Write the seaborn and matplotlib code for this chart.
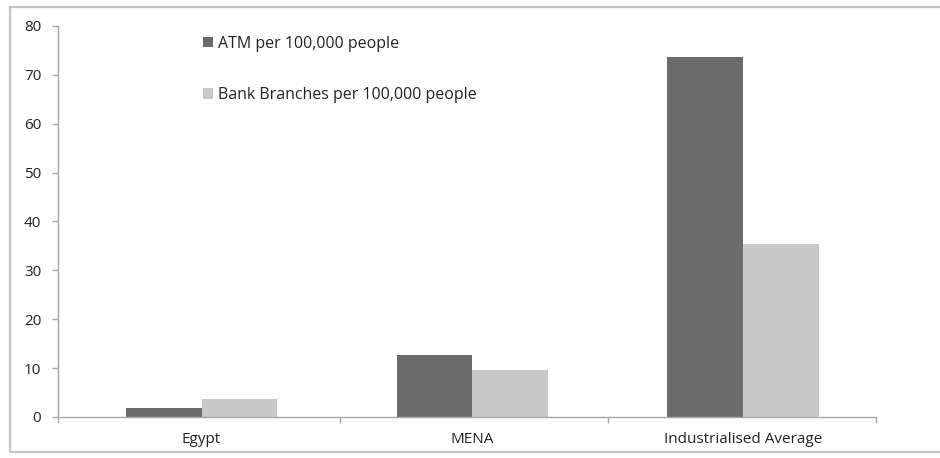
import pandas as pd
import matplotlib.pyplot as plt
import seaborn as sns
from matplotlib.patches import Rectangle

# Values
regions = ['Egypt', 'MENA', 'Industrialised Average']
atm_per_100k = [1.8, 12.6, 73.6]
branches_per_100k = [3.7, 9.6, 35.4]
series_names = ['ATM per 100,000 people', 'Bank Branches per 100,000 people']
y_ticks = [0, 10, 20, 30, 40, 50, 60, 70, 80]

# Long-form table for seaborn
data = pd.DataFrame({
    'Region': regions * 2,
    'Value': atm_per_100k + branches_per_100k,
    'Series': [series_names[0]] * 3 + [series_names[1]] * 3,
})

sns.set_theme(style="white")
plt.rcParams['font.family'] = ['Open Sans', 'DejaVu Sans']

fig = plt.figure(figsize=(9.4, 4.58), dpi=100)
ax = fig.add_axes([58 / 940, 1 - 417 / 458, 818 / 940, 391 / 458])

sns.barplot(
    data=data, x='Region', y='Value', hue='Series',
    palette=['#6b6b6b', '#c8c8c8'], saturation=1, width=0.56,
    order=regions, hue_order=series_names, ax=ax, linewidth=0,
)

# Axes styling
x_lo, x_hi = -0.53, 2.49
ax.set_xlim(x_lo, x_hi)
ax.set_ylim(0, 80)
ax.set_yticks(y_ticks)
ax.set_xlabel('')
ax.set_ylabel('')
for side in ['top', 'right']:
    ax.spines[side].set_visible(False)
for side in ['left', 'bottom']:
    ax.spines[side].set_color('#a6a6a6')
    ax.spines[side].set_linewidth(1.0)

ax.tick_params(axis='y', which='major', left=True, length=4.5, width=1,
               color='#a6a6a6', pad=7.5, labelsize=11, labelcolor='#222222')
ax.tick_params(axis='x', which='major', bottom=False, length=0, pad=11,
               labelsize=11, labelcolor='#222222')
ax.set_xticks([x_lo, 0.51, 1.5, x_hi], minor=True)
ax.tick_params(axis='x', which='minor', bottom=True, length=4, width=1,
               color='#a6a6a6')

# Legend without frame, top-left inside the plot
handles, labels = ax.get_legend_handles_labels()
ax.legend(
    handles, labels, loc='upper left', bbox_to_anchor=(0.168, 0.995),
    frameon=False, fontsize=11.5, handlelength=0.6, handleheight=0.6,
    handletextpad=0.3, labelspacing=2.2, borderpad=0, labelcolor='#222222',
)

# Outer border around the chart (right side cut off in the reference)
fig.add_artist(Rectangle((10 / 940, 1 - 452 / 458), 1.2, 445 / 458,
                         transform=fig.transFigure, fill=False,
                         edgecolor='#c4c4c4', linewidth=1.6))

plt.savefig('out.png', dpi=100)
